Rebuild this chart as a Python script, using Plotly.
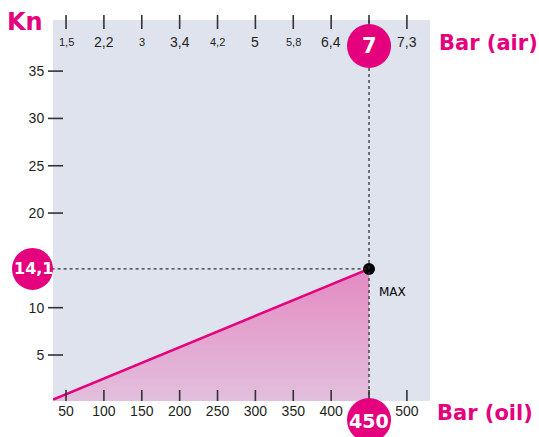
import plotly.graph_objects as go

# Oil pressure scale (bar) with the matching air pressure scale (bar)
oil_ticks = [50, 100, 150, 200, 250, 300, 350, 400, 450, 500]
air_labels = ["1,5", "2,2", "3", "3,4", "4,2", "5", "5,8", "6,4", "7", "7,3"]
air_small = [True, False, True, False, True, False, True, False, False, False]

# Force (kN)
kn_ticks = [5, 10, 20, 25, 30, 35]

# Force curve: from the start of the scale up to the maximum point
oil_curve = [33, 450]
kn_curve = [0.3, 14.1]
max_oil = 450
max_air = "7"
max_kn = 14.1

MAGENTA = "#E5007D"
BG = "#DFE3EE"
INK = "#231F20"
TXT_FONT = "Liberation Sans, Arial, sans-serif"
BOLD_FONT = "DejaVu Sans, Verdana, sans-serif"

fig = go.Figure()

# Shaded area under the force line
fig.add_trace(go.Scatter(
    x=oil_curve, y=kn_curve, mode="lines",
    line=dict(color=MAGENTA, width=2.6),
    fill="tozeroy",
    fillgradient=dict(type="vertical",
                      colorscale=[[0, "#E2C0DD"], [1, "#E48AC2"]]),
    hoverinfo="skip", showlegend=False,
))

shapes = []

# Dotted guide lines to the maximum point
shapes.append(dict(type="line", xref="x", yref="y",
                   x0=oil_curve[0] - 10, x1=max_oil, y0=max_kn, y1=max_kn,
                   layer="above",
                   line=dict(color="#333", width=1.3, dash="dot")))
shapes.append(dict(type="line", xref="x", yref="paper",
                   x0=max_oil, x1=max_oil, y0=0, y1=1, layer="above",
                   line=dict(color="#333", width=1.3, dash="dot")))

# Tick marks on the left axis (straddling the plot edge)
for v in kn_ticks:
    shapes.append(dict(type="line", xref="paper", yref="y",
                       xsizemode="pixel", xanchor=0, x0=-5, x1=10,
                       y0=v, y1=v, layer="above",
                       line=dict(color="#333", width=1.6)))

# Tick marks on the top (air) axis
for v in oil_ticks:
    shapes.append(dict(type="line", xref="x", yref="paper",
                       ysizemode="pixel", yanchor=1, y0=-9, y1=5,
                       x0=v, x1=v, layer="above",
                       line=dict(color="#333", width=1.6)))

# Tick marks on the bottom (oil) axis
for v in oil_ticks:
    shapes.append(dict(type="line", xref="x", yref="paper",
                       ysizemode="pixel", yanchor=0, y0=0, y1=11,
                       x0=v, x1=v, layer="above",
                       line=dict(color="#333", width=1.6)))

# Highlight badges
shapes.append(dict(type="circle", xref="x", yref="paper",
                   xsizemode="pixel", ysizemode="pixel",
                   xanchor=max_oil, yanchor=1,
                   x0=-22, x1=22, y0=-48, y1=-4, layer="above",
                   fillcolor=MAGENTA, line=dict(width=0)))
shapes.append(dict(type="circle", xref="paper", yref="y",
                   xsizemode="pixel", ysizemode="pixel",
                   xanchor=0, yanchor=max_kn,
                   x0=-41, x1=0, y0=-21, y1=21, layer="above",
                   fillcolor=MAGENTA, line=dict(width=0)))
shapes.append(dict(type="circle", xref="x", yref="paper",
                   xsizemode="pixel", ysizemode="pixel",
                   xanchor=max_oil, yanchor=0,
                   x0=-22, x1=22, y0=-41, y1=3, layer="above",
                   fillcolor=MAGENTA, line=dict(width=0)))

# Maximum point
fig.add_trace(go.Scatter(
    x=[max_oil], y=[max_kn], mode="markers",
    marker=dict(color="black", size=12),
    hoverinfo="skip", showlegend=False,
))

annotations = []

# Air pressure labels along the top
for v, lab, small in zip(oil_ticks, air_labels, air_small):
    if lab == max_air:
        continue
    annotations.append(dict(
        x=v, y=1, xref="x", yref="paper", yshift=-22,
        text=lab, showarrow=False, xanchor="center", yanchor="middle",
        font=dict(family=TXT_FONT, size=11 if small else 14, color=INK)))

# Badge texts
annotations.append(dict(x=max_oil, y=1, xref="x", yref="paper", yshift=-26,
                        xanchor="center", yanchor="middle",
                        text="<b>" + max_air + "</b>", showarrow=False,
                        font=dict(family=BOLD_FONT, size=21, color="white")))
annotations.append(dict(x=0, y=max_kn, xref="paper", yref="y", xshift=-20,
                        xanchor="center", yanchor="middle",
                        text="<b>" + str(max_kn).replace(".", ",") + "</b>",
                        showarrow=False,
                        font=dict(family=BOLD_FONT, size=16, color="white")))
annotations.append(dict(x=max_oil, y=0, xref="x", yref="paper", yshift=-20,
                        xanchor="center", yanchor="middle",
                        text="<b>" + str(max_oil) + "</b>", showarrow=False,
                        font=dict(family=BOLD_FONT, size=19, color="white")))

# MAX label
annotations.append(dict(x=max_oil, y=max_kn, xref="x", yref="y",
                        xshift=8, yshift=-23, xanchor="left", yanchor="middle",
                        text="MAX", showarrow=False,
                        font=dict(family=BOLD_FONT, size=12, color="black")))

# Axis titles
annotations.append(dict(x=0, y=1, xref="paper", yref="paper",
                        xshift=-8, yshift=-2, xanchor="right", yanchor="middle",
                        text="<b>Kn</b>", showarrow=False,
                        font=dict(family=BOLD_FONT, size=24, color=MAGENTA)))
annotations.append(dict(x=1, y=1, xref="paper", yref="paper",
                        xshift=7, yshift=-23, xanchor="left", yanchor="middle",
                        text="<b>Bar (air)</b>", showarrow=False,
                        font=dict(family=BOLD_FONT, size=21, color=MAGENTA)))
annotations.append(dict(x=1, y=0, xref="paper", yref="paper",
                        xshift=5, yshift=-12, xanchor="left", yanchor="middle",
                        text="<b>Bar (oil)</b>", showarrow=False,
                        font=dict(family=BOLD_FONT, size=21, color=MAGENTA)))

fig.update_layout(
    width=539, height=437,
    margin=dict(l=53, r=109, t=20, b=36),
    paper_bgcolor="white", plot_bgcolor=BG,
    shapes=shapes, annotations=annotations,
    showlegend=False,
)
# The maximum value sits in its own badge, so its plain tick label is left blank
fig.update_xaxes(
    range=[32.8, 530.5], tickvals=oil_ticks,
    ticktext=["" if v == max_oil else str(v) for v in oil_ticks],
    ticks="", showgrid=False, zeroline=False, showline=False,
    tickfont=dict(family=TXT_FONT, size=14, color=INK),
    fixedrange=True,
)
fig.update_yaxes(
    range=[0.14, 40.4], tickvals=kn_ticks,
    ticks="outside", ticklen=5, tickcolor="rgba(0,0,0,0)",
    showgrid=False, zeroline=False, showline=False,
    tickfont=dict(family=TXT_FONT, size=14, color=INK),
    fixedrange=True,
)

fig.write_html("out.html", config={"displayModeBar": False})
